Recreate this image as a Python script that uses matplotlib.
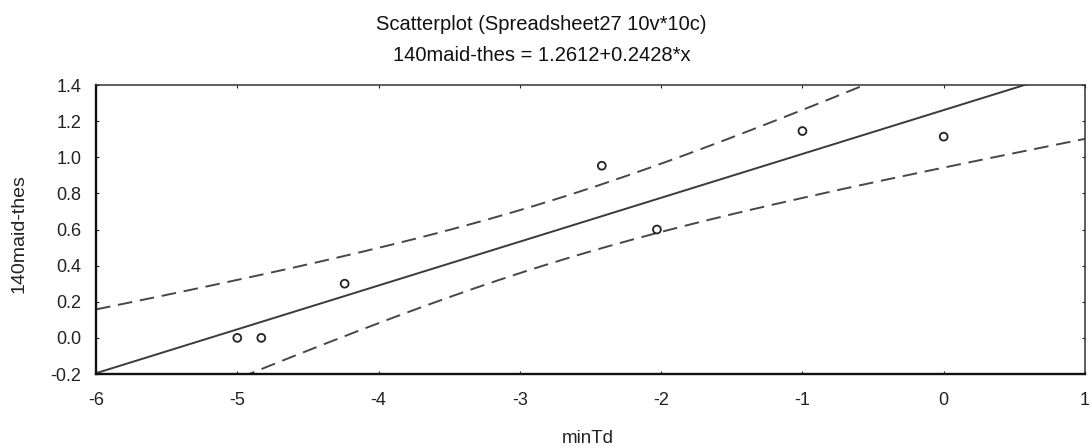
import numpy as np
import matplotlib
matplotlib.use("Agg")
import matplotlib.pyplot as plt

plt.rcParams['font.family'] = ['Liberation Sans', 'DejaVu Sans']

# Data
x_vals = [-5.0, -4.83, -4.24, -2.42, -2.03, -1.0, 0.0]
y_vals = [0.0, 0.0, 0.30, 0.953, 0.60, 1.145, 1.114]
intercept = 1.2612
slope = 0.2428
t_crit = 2.5706  # t(0.975, df=5)
x_ticks = [-6, -5, -4, -3, -2, -1, 0, 1]
y_ticks = [-0.2, 0.0, 0.2, 0.4, 0.6, 0.8, 1.0, 1.2, 1.4]

x = np.array(x_vals)
y = np.array(y_vals)
n = len(x)
resid = y - (intercept + slope * x)
s = np.sqrt(np.sum(resid ** 2) / (n - 2))
sxx = np.sum((x - x.mean()) ** 2)

xx = np.linspace(-6, 1, 200)
yy = intercept + slope * xx
half = t_crit * s * np.sqrt(1.0 / n + (xx - x.mean()) ** 2 / sxx)

W, H = 1091, 448
fig = plt.figure(figsize=(W / 100, H / 100), dpi=100)
ax = fig.add_axes([96 / W, 1 - 374 / H, (1085 - 96) / W, (374 - 85) / H])

ax.plot(xx, yy, color='#3a3a3a', lw=1.4)
ax.plot(xx, yy + half, color='#474747', lw=1.4, ls=(0, (7.5, 4)))
ax.plot(xx, yy - half, color='#474747', lw=1.4, ls=(0, (7.5, 4)))
ax.scatter(x, y, s=32, facecolors='none', edgecolors='#222222', linewidths=1.3, zorder=3)

ax.set_xlim(-6, 1)
ax.set_ylim(-0.2, 1.4)
ax.set_xticks(x_ticks)
ax.set_yticks(y_ticks)
ax.set_xticklabels([str(v) for v in x_ticks])
ax.set_yticklabels([f"{v:.1f}" for v in y_ticks])
ax.tick_params(direction='in', length=2, width=0.8, labelsize=13, colors='#222222',
               top=True, right=True)
ax.tick_params(axis='x', pad=13)
ax.tick_params(axis='y', pad=10.5)
for side in ['left', 'bottom']:
    ax.spines[side].set_linewidth(1.7)
    ax.spines[side].set_color('#111111')
for side in ['top', 'right']:
    ax.spines[side].set_linewidth(1.1)
    ax.spines[side].set_color('#333333')

fig.text(588 / W, 1 - 443 / H, 'minTd', ha='center', va='baseline',
         fontsize=13.5, color='#222222')
fig.text(19 / W, 1 - 234 / H, '140maid-thes', ha='center', va='center', rotation=90,
         fontsize=14, color='#222222')

fig.text(541 / W, 1 - 30 / H, 'Scatterplot (Spreadsheet27 10v*10c)', ha='center', va='baseline',
         fontsize=14.5, color='#111111')
fig.text(542 / W, 1 - 61 / H, '140maid-thes = 1.2612+0.2428*x', ha='center', va='baseline',
         fontsize=14.5, color='#111111')

fig.savefig('out.png', dpi=100, facecolor='white')
